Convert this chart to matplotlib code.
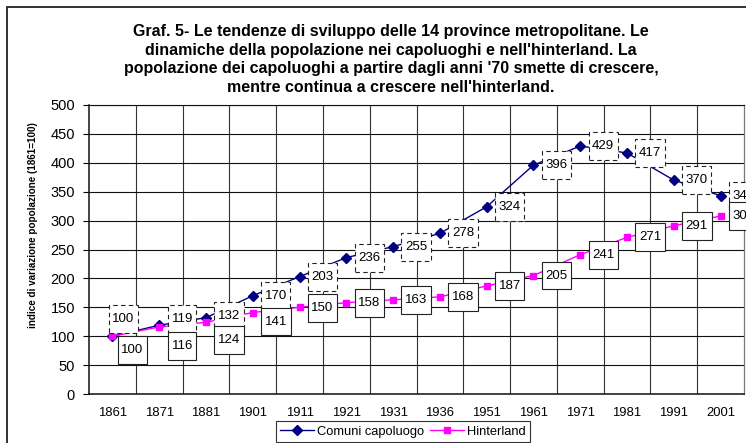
import matplotlib
matplotlib.use("Agg")
import matplotlib.pyplot as plt
from matplotlib.path import Path
from matplotlib.patches import Rectangle
from matplotlib.ticker import MultipleLocator, FixedLocator

plt.rcParams['font.family'] = ['Liberation Sans', 'DejaVu Sans']

# ---- data ----
years = ['1861', '1871', '1881', '1901', '1911', '1921', '1931',
         '1936', '1951', '1961', '1971', '1981', '1991', '2001']
comuni = [100, 119, 132, 170, 203, 236, 255, 278, 324, 396, 429, 417, 370, 343]
hinterland = [100, 116, 124, 141, 150, 158, 163, 168, 187, 205, 241, 271, 291, 308]

title = ("Graf. 5- Le tendenze di sviluppo delle 14 province metropolitane. Le\n"
         "dinamiche della popolazione nei capoluoghi e nell'hinterland. La\n"
         "popolazione dei capoluoghi a partire dagli anni '70 smette di crescere,\n"
         "mentre continua a crescere nell'hinterland.")
ylabel = "indice di variazione popolazione (1861=100)"
series_names = ["Comuni capoluogo", "Hinterland"]

# label placement offsets (pixels) - layout only
com_dx = [11] + [23] * 13
com_dy = [17, 6, 2] + [0] * 11
hin_dx = [20] + [23] * 13
hin_dy = [-14, -19, -18, -9, -1] + [0] * 9

W, H = 746, 443
fig = plt.figure(figsize=(W / 100, H / 100), dpi=100)
ax = fig.add_axes([89 / W, 1 - 394 / H, (744 - 89) / W, (394 - 105) / H])

x = list(range(len(years)))
ax.plot(x, comuni, color='#000080', lw=1.0, marker='D', ms=5.5,
        mfc='#000080', mec='#000080', zorder=3, label=series_names[0])
ax.plot(x, hinterland, color='#FF00FF', lw=1.0, marker='s', ms=5,
        mfc='#FF00FF', mec='#FF00FF', zorder=3, label=series_names[1])


def excel_box(x0, y0, width, height, mutation_size):
    px = 0.27 * mutation_size
    py = 0.6 * mutation_size
    x0 -= px
    y0 -= py
    x1 = x0 + width + 2 * px
    y1 = y0 + height + 2 * py
    return Path([(x0, y0), (x1, y0), (x1, y1), (x0, y1), (x0, y0)], closed=True)


for i, v in enumerate(comuni):
    ax.annotate(str(v), (i, v), xytext=(com_dx[i], com_dy[i]),
                textcoords='offset pixels', ha='center', va='center',
                fontsize=9.5, zorder=5, annotation_clip=False,
                bbox=dict(boxstyle=excel_box, fc='white', ec='#222222',
                          lw=0.8, ls=(0, (4, 3))))
for i, v in enumerate(hinterland):
    ax.annotate(str(v), (i, v), xytext=(hin_dx[i], hin_dy[i]),
                textcoords='offset pixels', ha='center', va='center',
                fontsize=9.5, zorder=5, annotation_clip=False,
                bbox=dict(boxstyle=excel_box, fc='white', ec='#222222', lw=0.8))

ax.set_xlim(-0.5, len(years) - 0.5)
ax.set_ylim(0, 500)
ax.yaxis.set_major_locator(MultipleLocator(50))
ax.set_xticks(x)
ax.set_xticklabels(years, fontsize=9.4)
ax.xaxis.set_minor_locator(FixedLocator([k + 0.5 for k in range(len(years) - 1)]))
ax.tick_params(axis='x', which='both', length=0, pad=9)
ax.tick_params(axis='y', which='major', length=4, width=0.8, direction='out',
               labelsize=10.5, pad=6)
ax.grid(axis='y', which='major', color='#111111', lw=0.8)
ax.grid(axis='x', which='minor', color='#333333', lw=0.8)
ax.set_axisbelow(True)
for s in ['left', 'bottom']:
    ax.spines[s].set_color('#111111')
    ax.spines[s].set_linewidth(1.1)
ax.spines['top'].set_color('#111111')
ax.spines['top'].set_linewidth(0.8)
ax.spines['right'].set_color('#777777')
ax.spines['right'].set_linewidth(0.9)

fig.text(33 / W, 1 - 225 / H, ylabel, rotation=90, fontsize=7.1,
         fontweight='bold', ha='center', va='center')
fig.text(391 / W, 1 - 59.5 / H, title, fontsize=11.5, fontweight='bold',
         ha='center', va='center', linespacing=1.28)

leg = fig.legend(loc='upper center', bbox_to_anchor=(403 / W, 1 - 421 / H),
                 ncol=2, fontsize=9.3, frameon=True, fancybox=False,
                 edgecolor='black', handlelength=2.6, handletextpad=0.25,
                 columnspacing=0.5, borderpad=0.35, borderaxespad=0)
leg.get_frame().set_linewidth(0.8)

fig.patches.append(Rectangle((7 / W, -0.1), 1.2, 1 - 7 / H + 0.1,
                             transform=fig.transFigure, fill=False,
                             ec='#222222', lw=1.3))

fig.savefig('out.png', dpi=100)
